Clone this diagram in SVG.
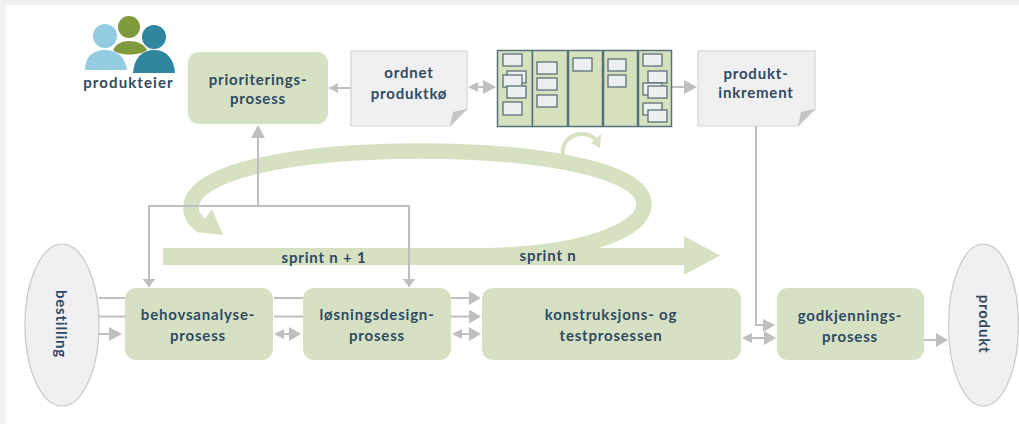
<svg xmlns="http://www.w3.org/2000/svg" width="1019" height="424" viewBox="0 0 1019 424">
<defs>
<linearGradient id="edgeL" x1="0" x2="1" y1="0" y2="0"><stop offset="0" stop-color="#f0f0f0"/><stop offset=".7" stop-color="#f3f3f3"/><stop offset="1" stop-color="#fff"/></linearGradient>
</defs>
<style>
text{font-family:"Lato","Liberation Sans",sans-serif;font-weight:700;font-size:15px;fill:#2f4a63;text-anchor:middle;letter-spacing:.8px}
.proc{fill:#d6e1c4}
.doc{fill:#f0f0f2;stroke:#d4d4d4;stroke-width:1.2}
.fold{fill:#c4c4c4}
.end{fill:#f0f0f2;stroke:#c9c9c9;stroke-width:1.2}
.col{fill:#d6e1bd;stroke:#56707c;stroke-width:1.5}
.card{fill:#edf0f0;stroke:#4f6670;stroke-width:1.2}
.ln{fill:none;stroke:#bfbfc1;stroke-width:2}
.hd{fill:#bfbfc1}
.rb{fill:none;stroke:#d6e1c1}
</style>
<rect width="1019" height="424" fill="#fff"/>
<rect width="7" height="424" fill="url(#edgeL)"/>
<rect width="1019" height="5" fill="#f0f0f0"/>
<g id="sprint-arrow">
<path d="M163 248H684V236L720 255.500 684 275V265H163Z" fill="#d6e1c1"/>
</g>
<g id="sprint-loop">
<path class="rb" stroke-width="15.500" d="M480 256C580 254 644 232 644 204C644 170 540 151 420 151C300 151 191 170 191 208C191 216 196 222 203 226"/>
<path d="M212 209L223 235 196 232Z" fill="#d6e1c1"/>
<path class="rb" stroke-width="4" d="M563 155C561 141 572 134 582 134C589 134 594 137 597 141"/>
<path d="M601 134L600 148 591 143Z" fill="#d6e1c1"/>
</g>
<g id="connectors">
<path class="ln" d="M258 207V136M149 287V206H409V287M756 126V325H765M99 298H125M99 316.500H125M99 334H112M274 298H303M274 316.500H303M283 334H291M451 298H470M451 316.500H470M460 334H470M749 338H765M924 340H937M329 88H351M476 87H484M672 87H685"/>
<path class="hd" d="M258 125L265 138H251ZM149 287L142.500 279H155.500ZM409 287L402.500 279H415.500Z"/>
<path class="hd" d="M122 334L109 327V341ZM301 334L289 327V341ZM274 334L284 329V339ZM481 298L469 291V305ZM481 316.500L469 309.500V323.500ZM481 334L469 327V341ZM452 334L462 329V339Z"/>
<path class="hd" d="M775 325L763 319V332ZM776 338L764 331V345ZM742 338L752 333V343ZM948 340L936 333V347ZM329 88L338 83V93ZM496 87L483 80V94ZM468 87L478 82V92ZM697 87L684 80V94Z"/>
</g>
<g id="produkteier">
<circle cx="105" cy="36" r="12" fill="#93cbe0"/>
<path d="M85 70C85 56 94 50 105 50C116 50 125 56 127 70Z" fill="#93cbe0"/>
<circle cx="129" cy="27" r="11" fill="#7f9a3a"/>
<path d="M113 50C116 44 122 41 129 41C137 41 144 44 147 50C140 56 119 56 113 50Z" fill="#7f9a3a"/>
<path d="M133 73C134 58 142 50 154 50C166 50 174 58 175 73Z" fill="#31869f"/>
<circle cx="154" cy="37" r="12" fill="#31869f"/>
<text x="128.500" y="88" style="letter-spacing:1.1px">produkteier</text>
</g>
<g id="prioriteringsprosess">
<rect class="proc" x="188" y="52" width="140" height="72" rx="11"/>
<text x="258" y="85">prioriterings-</text><text x="258" y="104">prosess</text>
</g>
<g id="ordnet-produktko">
<path class="doc" d="M351 51H467V109L450 126H351Z"/>
<path class="fold" d="M467 109L450 126 453 112Z"/>
<text x="409" y="78">ordnet</text><text x="409" y="99">produktkø</text>
</g>
<g id="tavle">
<rect class="col" x="497.500" y="50.500" width="35" height="76"/>
<rect class="col" x="532.500" y="50.500" width="35" height="76"/>
<rect class="col" x="568.500" y="50.500" width="34" height="76"/>
<rect class="col" x="603.500" y="50.500" width="34" height="76"/>
<rect class="col" x="638.500" y="50.500" width="33" height="76"/>
<rect class="card" x="503" y="54" width="19" height="12"/>
<rect class="card" x="507" y="71" width="19" height="12"/>
<rect class="card" x="503" y="75" width="19" height="12"/>
<rect class="card" x="507" y="86" width="19" height="12"/>
<rect class="card" x="503" y="102" width="19" height="13"/>
<rect class="card" x="537" y="62" width="20" height="12"/>
<rect class="card" x="537" y="78" width="20" height="12"/>
<rect class="card" x="537" y="95" width="20" height="12"/>
<rect class="card" x="573" y="58" width="19" height="13"/>
<rect class="card" x="608" y="59" width="18" height="12"/>
<rect class="card" x="608" y="75" width="18" height="12"/>
<rect class="card" x="643" y="54" width="19" height="12"/>
<rect class="card" x="648" y="71" width="19" height="12"/>
<rect class="card" x="643" y="83" width="19" height="12"/>
<rect class="card" x="648" y="86" width="19" height="12"/>
<rect class="card" x="643" y="103" width="19" height="12"/>
<rect class="card" x="648" y="110" width="19" height="12"/>
</g>
<g id="produktinkrement">
<path class="doc" d="M698 51H815V109L798 126H698Z"/>
<path class="fold" d="M815 109L798 126 801 112Z"/>
<text x="756" y="79">produkt-</text><text x="756" y="98">inkrement</text>
</g>
<g id="sprint-labels">
<text x="324" y="263">sprint n + 1</text>
<text x="548" y="261">sprint n</text>
</g>
<g id="bestilling">
<ellipse class="end" cx="62" cy="325" rx="37" ry="81"/>
<text transform="translate(56 324) rotate(90)">bestilling</text>
</g>
<g id="behovsanalyseprosess">
<rect class="proc" x="125" y="288" width="148" height="72" rx="11"/>
<text x="198" y="320">behovsanalyse-</text><text x="198" y="341">prosess</text>
</g>
<g id="losningsdesignprosess">
<rect class="proc" x="303" y="288" width="148" height="72" rx="11"/>
<text x="377" y="320">løsningsdesign-</text><text x="377" y="341">prosess</text>
</g>
<g id="konstruksjonsprosess">
<rect class="proc" x="482" y="288" width="259" height="72" rx="11"/>
<text x="611" y="320">konstruksjons- og</text><text x="611" y="341">testprosessen</text>
</g>
<g id="godkjenningsprosess">
<rect class="proc" x="777" y="288" width="147" height="72" rx="11"/>
<text x="850" y="321">godkjennings-</text><text x="850" y="342">prosess</text>
</g>
<g id="produkt">
<ellipse class="end" cx="983.500" cy="325" rx="35" ry="81"/>
<text transform="translate(979 324) rotate(90)">produkt</text>
</g>
</svg>
